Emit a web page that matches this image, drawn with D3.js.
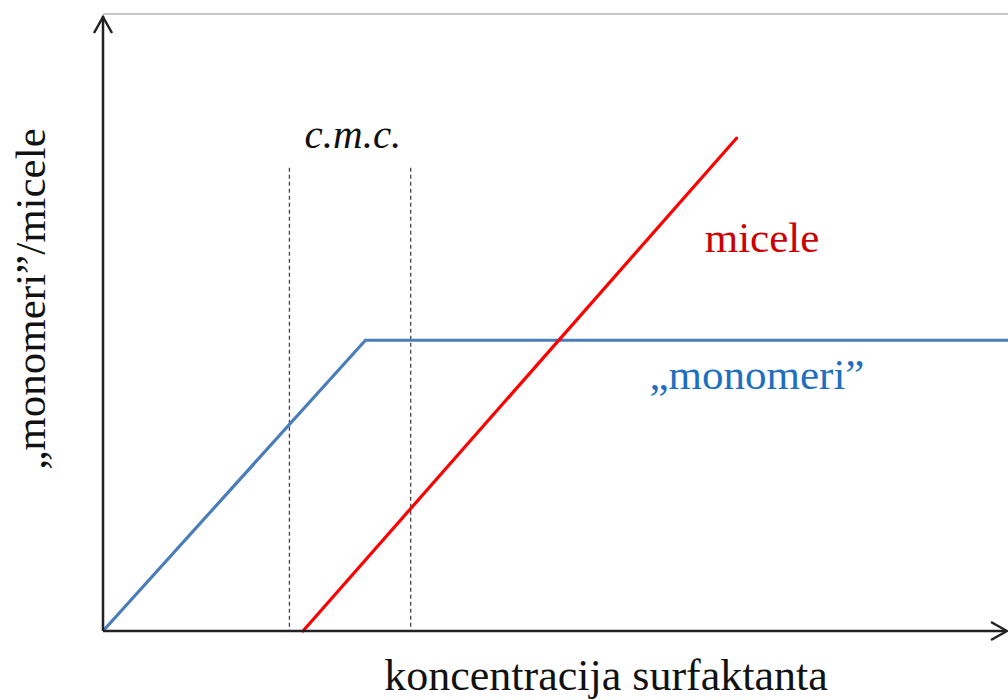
<!DOCTYPE html>
<html>
<head>
<meta charset="utf-8">
<script src="https://cdn.jsdelivr.net/npm/d3@7"></script>
<style>
  html, body { margin: 0; padding: 0; background: #fff; }
  svg { display: block; }
  text { font-family: "Liberation Serif", "Times New Roman", serif; }
</style>
</head>
<body>
<svg id="chart" width="1008" height="700"></svg>
<script>
// ---- data (arbitrary units) ----
const monomeriX = [0, 2.9, 10];
const monomeriY = [0, 4.72, 4.72];
const miceleX = [2.21, 7.0];
const miceleY = [0, 8.0];
const cmcX = [2.06, 3.4];
const cmcTop = 7.52;
const labels = {
  x: "koncentracija surfaktanta",
  y: "\u201Emonomeri\u201D/micele",
  cmc: "c.m.c.",
  micele: "micele",
  monomeri: "\u201Emonomeri\u201D"
};

const svg = d3.select("#chart");
const x = d3.scaleLinear().domain([0, 10]).range([103, 1008]);
const y = d3.scaleLinear().domain([0, 10]).range([631, 15]);

// top frame line
svg.append("line")
  .attr("x1", x(0)).attr("x2", x(10))
  .attr("y1", y(10) - 1).attr("y2", y(10) - 1)
  .attr("stroke", "#c6c6c6").attr("stroke-width", 2);

// dashed cmc lines
svg.selectAll("line.cmc").data(cmcX).join("line")
  .attr("class", "cmc")
  .attr("x1", d => x(d)).attr("x2", d => x(d))
  .attr("y1", y(cmcTop)).attr("y2", y(0))
  .attr("stroke", "#444").attr("stroke-width", 1.3)
  .attr("stroke-dasharray", "4,3");

const line = d3.line().x(d => x(d[0])).y(d => y(d[1]));

svg.append("path")
  .datum(monomeriX.map((v, i) => [v, monomeriY[i]]))
  .attr("d", line).attr("fill", "none")
  .attr("stroke", "#4a7ebb").attr("stroke-width", 3.2)
  .attr("stroke-linejoin", "miter");

svg.append("path")
  .datum(miceleX.map((v, i) => [v, miceleY[i]]))
  .attr("d", line).attr("fill", "none")
  .attr("stroke", "#ff0000").attr("stroke-width", 3.2)
  .attr("stroke-linecap", "round");

// axes with arrows
const ax = svg.append("g").attr("stroke", "#222").attr("stroke-width", 2.5).attr("fill", "none");
ax.append("line").attr("x1", x(0)).attr("y1", y(0)).attr("x2", 1006).attr("y2", y(0));
ax.append("line").attr("x1", x(0)).attr("y1", y(0)).attr("x2", x(0)).attr("y2", 16);
ax.append("path").attr("d", `M${x(0) - 9},${33} L${x(0)},${17} L${x(0) + 9},${33}`);
ax.append("path").attr("d", `M${1007 - 16},${y(0) - 9} L${1007},${y(0)} L${1007 - 16},${y(0) + 9}`);

// texts
svg.append("text").attr("x", 353).attr("y", 148)
  .attr("text-anchor", "middle").attr("font-size", 41).attr("font-style", "italic")
  .attr("fill", "#111").text(labels.cmc);

svg.append("text").attr("x", 762).attr("y", 252)
  .attr("text-anchor", "middle").attr("font-size", 43)
  .attr("fill", "#cc0000").text(labels.micele);

svg.append("text").attr("x", 757).attr("y", 389)
  .attr("text-anchor", "middle").attr("font-size", 43)
  .attr("fill", "#1f6fbf").text(labels.monomeri);

svg.append("text").attr("x", 606).attr("y", 690)
  .attr("text-anchor", "middle").attr("font-size", 44)
  .attr("fill", "#111").text(labels.x);

svg.append("text")
  .attr("transform", "translate(45,299) rotate(-90)")
  .attr("text-anchor", "middle").attr("font-size", 43)
  .attr("fill", "#111").text(labels.y);
</script>
</body>
</html>
